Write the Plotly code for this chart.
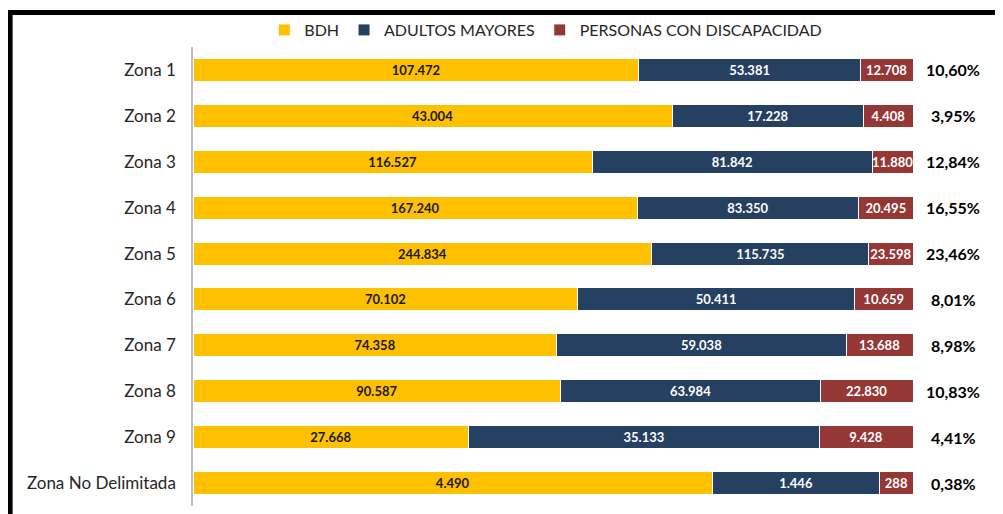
import plotly.graph_objects as go

zonas = ["Zona 1", "Zona 2", "Zona 3", "Zona 4", "Zona 5", "Zona 6",
         "Zona 7", "Zona 8", "Zona 9", "Zona No Delimitada"]
bdh = [107472, 43004, 116527, 167240, 244834, 70102, 74358, 90587, 27668, 4490]
adultos = [53381, 17228, 81842, 83350, 115735, 50411, 59038, 63984, 35133, 1446]
discapacidad = [12708, 4408, 11880, 20495, 23598, 10659, 13688, 22830, 9428, 288]
porcentajes = ["10,60%", "3,95%", "12,84%", "16,55%", "23,46%", "8,01%",
               "8,98%", "10,83%", "4,41%", "0,38%"]


def fmt(v):
    return f"{v:,}".replace(",", ".")


series = [
    ("BDH", bdh, "#FFC000", "#1a1a1a"),
    ("ADULTOS MAYORES", adultos, "#254061", "#ffffff"),
    ("PERSONAS CON DISCAPACIDAD", discapacidad, "#953735", "#ffffff"),
]

fig = go.Figure()
for name, vals, color, tcolor in series:
    fig.add_trace(go.Bar(
        y=zonas, x=vals, name=name, orientation="h",
        marker=dict(color=color, line=dict(color="white", width=1)),
        text=[fmt(v) for v in vals], textposition="inside",
        insidetextanchor="middle", constraintext="none",
        textfont=dict(family="Lato", size=13, color=tcolor, weight="bold"),
        hoverinfo="skip",
    ))

for z, p in zip(zonas, porcentajes):
    fig.add_annotation(x=1.056, xref="paper", y=z, yref="y", text=p,
                       showarrow=False, xanchor="center",
                       font=dict(family="Lato", size=16, color="#000000", weight="bold"))

# marco negro de la imagen
fig.add_shape(type="line", xref="paper", yref="paper", x0=-0.26, x1=1.15,
              y0=1.075, y1=1.075, line=dict(color="black", width=5))
fig.add_shape(type="line", xref="paper", yref="paper", x0=-0.254, x1=-0.254,
              y0=1.08, y1=-0.05, line=dict(color="black", width=5))

fig.update_layout(
    width=1003, height=514,
    barmode="stack", barnorm="percent", bargap=0.5,
    paper_bgcolor="white", plot_bgcolor="white",
    margin=dict(l=185, r=98, t=39, b=16, autoexpand=False),
    font=dict(family="Lato", color="#262626"),
    legend=dict(orientation="h", x=0.49, xanchor="center", y=1.037, yanchor="middle",
                font=dict(size=16, color="#262626"), bgcolor="rgba(0,0,0,0)",
                traceorder="normal"),
    xaxis=dict(range=[0, 100], visible=False),
    yaxis=dict(autorange="reversed", showline=True, linecolor="#BFBFBF", linewidth=1.5,
               ticks="", ticklabelstandoff=12, tickfont=dict(size=17, color="#262626"),
               showgrid=False),
)

fig.write_html("out.html")
